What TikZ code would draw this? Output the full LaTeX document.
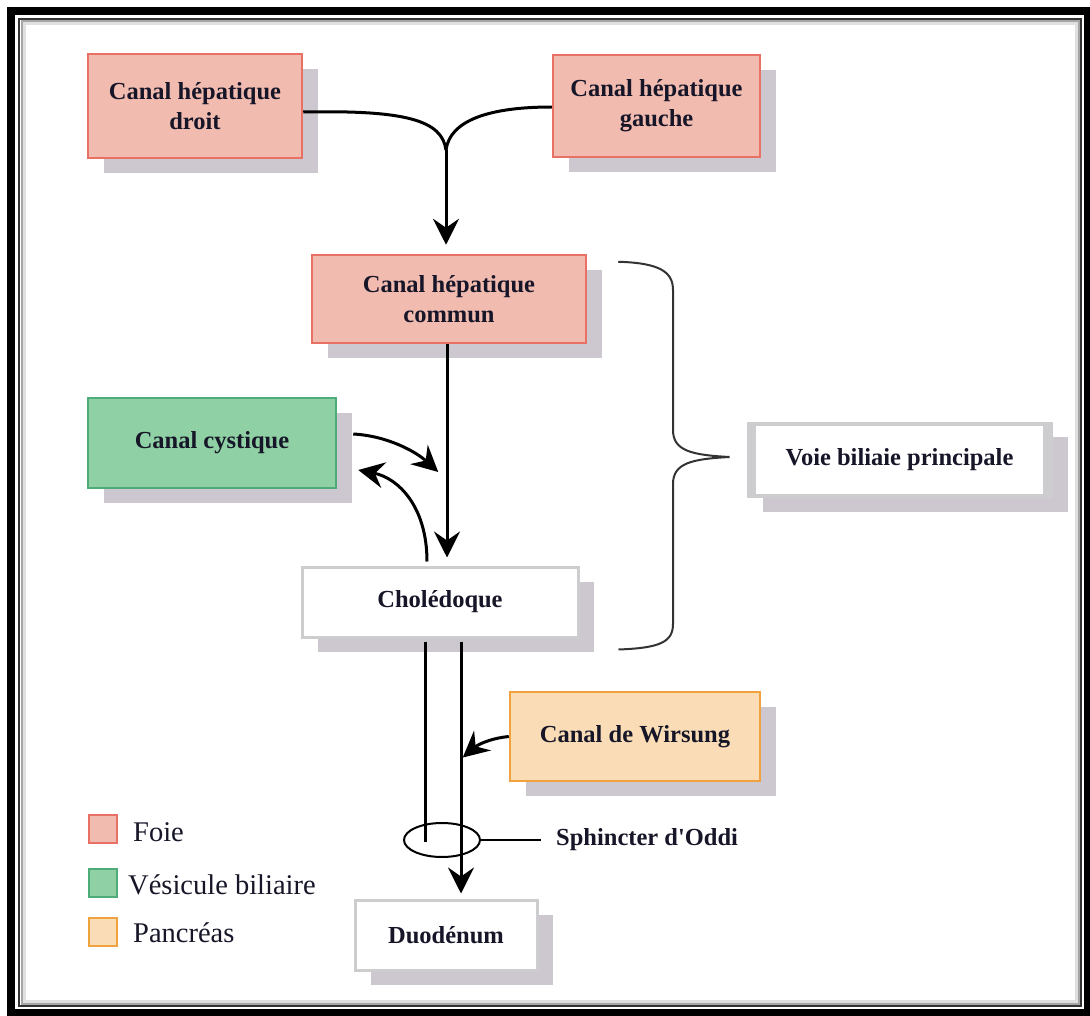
\documentclass[tikz,border=0pt]{standalone}
\usepackage{fontspec}
\setmainfont{Liberation Serif}
\newfontfamily\libser{Liberation Serif}
\usetikzlibrary{arrows.meta,shapes.geometric,shadows,calc}
\definecolor{foiefill}{RGB}{242,187,176}
\definecolor{foiedraw}{RGB}{232,112,100}
\definecolor{vesfill}{RGB}{143,208,164}
\definecolor{vesdraw}{RGB}{78,172,122}
\definecolor{panfill}{RGB}{250,221,182}
\definecolor{pandraw}{RGB}{240,162,62}
\definecolor{wbord}{RGB}{205,205,208}
\definecolor{shc}{RGB}{205,200,207}
\definecolor{txt}{RGB}{22,22,40}
\newcommand\bxfont{\libser\fontsize{24.5}{30}\selectfont\bfseries}
\newcommand\lgfont{\libser\fontsize{28.5}{32}\selectfont}
\tikzset{
  box/.style={rectangle, line width=2.5pt, text=txt, font=\bxfont, align=center, inner sep=0pt,
    drop shadow={shadow xshift=16pt, shadow yshift=-15pt, fill=shc, opacity=1}},
  foie/.style={box, fill=foiefill, draw=foiedraw},
  ves/.style={box, fill=vesfill, draw=vesdraw},
  pan/.style={box, fill=panfill, draw=pandraw},
  wbox/.style={box, fill=white, draw=wbord, line width=3pt},
  conn/.style={line width=3pt, black},
  arr/.style={conn, -{Stealth[length=26pt,width=26pt,inset=9pt]}},
  thinl/.style={line width=2pt, black},
  bracel/.style={line width=2pt, black!80},
  legsq/.style={rectangle, line width=2pt, minimum size=28pt, inner sep=0pt},
  legtxt/.style={anchor=west, inner sep=0pt, font=\lgfont, text=txt},
  lbl/.style={anchor=west, inner sep=0pt, font=\bxfont, text=txt}
}
\begin{document}
\begin{tikzpicture}[x=1pt,y=-1pt]
\useasboundingbox (0,0) rectangle (1090,1016);
\fill[white] (0,0) rectangle (1090,1016);
% frame
\draw[black, line width=8pt] (11,11) rectangle (1088,1013);
\draw[black!80, line width=1.5pt] (19,19) rectangle (1081,1006);
\draw[black!35, line width=2pt] (21.5,21.5) rectangle (1078.5,1003.5);
\draw[black!12, line width=3pt] (24,24) rectangle (1076,1001);

% boxes
\node[foie, minimum width=214pt, minimum height=104pt] (droit) at (195,106) {Canal hépatique\\droit};
\node[foie, minimum width=207pt, minimum height=102pt] (gauche) at (656.5,106) {Canal hépatique\\gauche};
\node[foie, minimum width=274pt, minimum height=88pt] (commun) at (449,299) {Canal hépatique\\commun};
\node[ves, minimum width=248pt, minimum height=90pt] (cyst) at (212,443) {Canal cystique};
\node[wbox, minimum width=276pt, minimum height=70pt] (chol) at (440,602) {Cholédoque};
\node[pan, minimum width=250pt, minimum height=89pt] (wirs) at (635,736.5) {Canal de Wirsung};
\node[wbox, minimum width=182pt, minimum height=70pt] (duod) at (446,935) {Duodénum};
\node[wbox, fill=wbord, line width=1pt, minimum width=305pt, minimum height=75pt,
  path picture={\fill[white] ([xshift=9pt,yshift=-3.5pt]path picture bounding box.north west) rectangle ([xshift=-9pt,yshift=3.5pt]path picture bounding box.south east);}]
  (voie) at (899.5,459.5) {Voie biliaie principale};

% helper x positions
\coordinate (x425) at (425,0);
\coordinate (x427) at (427,0);
\coordinate (x447) at (447,0);
\coordinate (x461) at (461,0);

% top confluence
\coordinate (j) at (446,150);
\draw[conn] ([yshift=-6pt]droit.east) .. controls (405,110) and (442,120) .. (j);
\draw[conn] ([yshift=-1pt]gauche.west) .. controls (490,107) and (450,120) .. (j);
\draw[arr, shorten >=9pt] (j) -- (j |- commun.north);

% commun -> choledoque
\draw[arr, shorten >=8pt] (commun.south -| x447) -- (chol.north -| x447);

% cystic arrows
\coordinate (c1s) at ($(cyst.east)+(16,-9)$);
\coordinate (c1e) at ($(cyst.east)+(101,29)$);
\draw[arr] (c1s) .. controls +(35,2) and +(-22,-20) .. (c1e);
\coordinate (c2s) at ($(chol.north -| x427)+(0,-4)$);
\coordinate (c2e) at ($(cyst.east)+(21,27)$);
\draw[arr] (c2s) .. controls +(0,-55) and +(40,8) .. (c2e);

% sphincter
\node[ellipse, draw, line width=2pt, minimum width=76pt, minimum height=34pt, inner sep=0pt] (sph) at (442,840) {};
\node[lbl] (sphl) at (556,840) {Sphincter d'Oddi};
\draw[thinl] (sph.east) -- ([xshift=-15pt]sphl.west);

% lines below choledoque
\draw[conn] ([yshift=-3pt]chol.south -| x425) -- ([yshift=-2pt]sph.center -| x425);
\draw[arr, shorten >=5pt] ([yshift=-3pt]chol.south -| x461) -- (duod.north -| x461);

% Wirsung arrow
\coordinate (we) at ($(wirs.west)+(-46,21)$);
\draw[arr] (wirs.west) .. controls +(-20,2) and +(14,-12) .. (we);

% brace
\coordinate (bt) at ($(commun.north east)+(31,8)$);
\coordinate (bb) at ($(chol.south east)+(39,11)$);
\coordinate (btip) at ($(voie.west)+(-17,-2.5)$);
\draw[bracel] (bt) .. controls (660,263) and (673,272) .. (673,290) -- (673,430)
  .. controls (673,451) and (692,455) .. (btip)
  .. controls (692,459) and (673,463) .. (673,484) -- (673,624)
  .. controls (673,642) and (660,648) .. (bb);

% legend
\node[legsq, fill=foiefill, draw=foiedraw] (lf) at (103,829) {};
\node[legtxt] (lft) at (133,832) {Foie};
\node[legsq, fill=vesfill, draw=vesdraw] (lv) at (103,883) {};
\node[legtxt] (lvt) at (128,885) {Vésicule biliaire};
\node[legsq, fill=panfill, draw=pandraw] (lp) at (103,932) {};
\node[legtxt] (lpt) at (133,933) {Pancréas};
\end{tikzpicture}
\end{document}
